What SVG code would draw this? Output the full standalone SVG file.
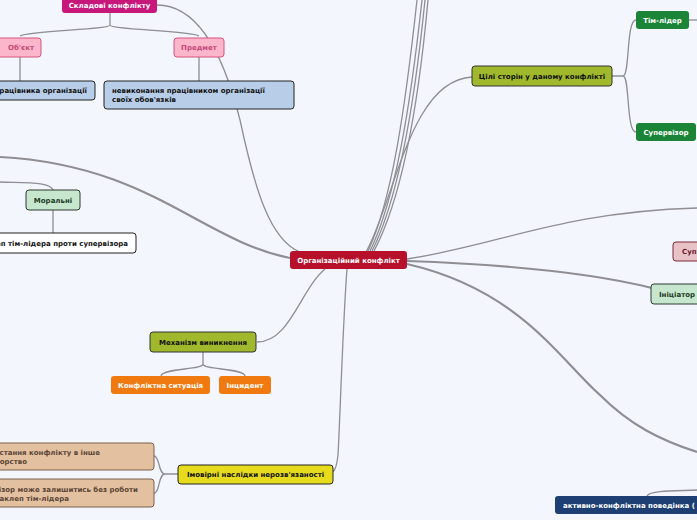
<svg xmlns="http://www.w3.org/2000/svg" width="697" height="520" viewBox="0 0 697 520">
<style>
.t{font-family:"DejaVu Sans",Verdana,sans-serif;font-weight:bold;font-size:7px}
.c{stroke:#8e8e93;fill:none;stroke-width:1.3}
.w{stroke:#8e8e93;fill:none;stroke-width:2.2}
</style>
<rect x="0" y="0" width="697" height="520" fill="#f3f6fd"/>
<g id="connectors">
<path class="c" d="M157,5 C200,5 225,60 240,120 C255,190 270,240 300,252"/>
<path class="c" d="M110,13 V25 C110,30 30,30 20,36 M110,25 C110,30 190,30 199,36"/>
<path class="c" d="M20,57 V81 M199,57 V81"/>
<path class="c" d="M368,251 C392,200 405,110 417,0"/>
<path class="c" d="M370,251 C395,200 410,110 422,0"/>
<path class="c" d="M372,251 C398,200 414,110 425,0"/>
<path class="c" d="M374,251 C401,200 418,110 428,0"/>
<path class="c" d="M366,252 C395,200 410,80 472,77"/>
<path class="w" d="M290,258 C200,240 150,165 0,157"/>
<path class="c" d="M0,182 C30,183 50,182 53,190 M53,210 V233"/>
<path class="c" d="M325,269 C300,290 290,342 257,342"/>
<path class="c" d="M203,352 V364 C203,370 162,368 161,376 M203,364 C203,370 244,368 245,376"/>
<path class="c" d="M347,269 C343,320 340,420 338,455 C337,465 335,470 333,472"/>
<path class="c" d="M178,474 H165 C158,474 160,456 154,456 M165,474 C158,474 160,493 154,493"/>
<path class="c" d="M612,76 H623 C630,76 626,20 636,20 M623,76 C630,76 626,132 636,132"/>
<path class="c" d="M689,20 H697"/>
<path class="c" d="M407,259 C500,245 560,212 697,208"/>
<path class="w" d="M407,261 C520,265 600,275 652,288"/>
<path class="w" d="M407,264 C520,290 560,360 600,395 C630,425 660,440 697,452"/>
<path class="c" d="M647,496 C650,490 680,491 697,490"/>
</g>
<g id="skladovi"><rect x="62" y="-4" width="95" height="17" rx="3" fill="#c8177a"/><text class="t" x="109.5" y="7.5" text-anchor="middle" fill="#fff">Складові конфлікту</text></g>
<g id="obiekt"><rect x="-4" y="38" width="45" height="19" rx="3" fill="#fbb6cb" stroke="#d8537f"/><text class="t" x="21" y="50" text-anchor="middle" fill="#c8497a">Об'єкт</text></g>
<g id="predmet"><rect x="174" y="38" width="50" height="19" rx="3" fill="#fbb6cb" stroke="#d8537f"/><text class="t" x="199" y="50" text-anchor="middle" fill="#c8497a">Предмет</text></g>
<g id="obiekt-child"><rect x="-10" y="81" width="105" height="19" rx="3" fill="#b8cde8" stroke="#222"/><text class="t" x="87" y="93" text-anchor="end" fill="#111">працівника організації</text></g>
<g id="predmet-child"><rect x="104" y="81" width="190" height="28" rx="3" fill="#b8cde8" stroke="#222"/><text class="t" x="112" y="93" fill="#111">невиконання працівником організації</text><text class="t" x="112" y="102" fill="#111">своїх обов'язків</text></g>
<g id="moralni"><rect x="26" y="190" width="54" height="20" rx="3" fill="#c6e7cd" stroke="#2d3b30"/><text class="t" x="53" y="202.5" text-anchor="middle" fill="#1d3a26">Моральні</text></g>
<g id="naklep"><rect x="-10" y="233" width="146" height="20" rx="3" fill="#fff" stroke="#222"/><text class="t" x="128" y="245.5" text-anchor="end" fill="#111">наклеп тім-лідера проти супервізора</text></g>
<g id="center"><rect x="290" y="251" width="117" height="18" rx="3" fill="#b7102b"/><text class="t" x="348.5" y="262.5" text-anchor="middle" fill="#fff">Організаційний конфлікт</text></g>
<g id="mekhanizm"><rect x="150" y="332" width="106" height="20" rx="3" fill="#9fb82c" stroke="#333"/><text class="t" x="203" y="344.5" text-anchor="middle" fill="#111">Механізм виникнення</text></g>
<g id="sytuatsiia"><rect x="111" y="376" width="99" height="18" rx="3" fill="#f07a10"/><text class="t" x="160.5" y="387.5" text-anchor="middle" fill="#fff">Конфліктна ситуація</text></g>
<g id="intsydent"><rect x="219" y="376" width="52" height="18" rx="3" fill="#f07a10"/><text class="t" x="245" y="387.5" text-anchor="middle" fill="#fff">Інцидент</text></g>
<g id="naslidky"><rect x="178" y="465" width="155" height="19" rx="3" fill="#e6db1c" stroke="#222"/><text class="t" x="255.5" y="477" text-anchor="middle" fill="#111">Імовірні наслідки нерозв'язаності</text></g>
<g id="pererostannia"><rect x="-10" y="443" width="164" height="27" rx="3" fill="#e3c0a0" stroke="#7c6048"/><text class="t" x="100" y="455" text-anchor="end" fill="#5b4636">переростання конфлікту в інше</text><text class="t" x="27" y="464" text-anchor="end" fill="#5b4636">протиборство</text></g>
<g id="bez-roboty"><rect x="-10" y="479" width="164" height="28" rx="3" fill="#e3c0a0" stroke="#7c6048"/><text class="t" x="138" y="492" text-anchor="end" fill="#5b4636">супервізор може залишитись без роботи</text><text class="t" x="69" y="501" text-anchor="end" fill="#5b4636">через наклеп тім-лідера</text></g>
<g id="tsili"><rect x="472" y="66" width="140" height="20" rx="3" fill="#9fb82c" stroke="#333"/><text class="t" x="542" y="78.5" text-anchor="middle" fill="#111">Цілі сторін у даному конфлікті</text></g>
<g id="tim-lider"><rect x="636" y="11" width="53" height="18" rx="3" fill="#1b8437"/><text class="t" x="662.5" y="22.5" text-anchor="middle" fill="#fff">Тім-лідер</text></g>
<g id="supervizor"><rect x="636" y="123" width="60" height="18" rx="3" fill="#1b8437"/><text class="t" x="666" y="134.5" text-anchor="middle" fill="#fff">Супервізор</text></g>
<g id="sup"><rect x="673" y="242" width="40" height="19" rx="3" fill="#e9c2c7" stroke="#7d2a3a"/><text class="t" x="682" y="254" fill="#6b1a2a">Суп</text></g>
<g id="initsiator"><rect x="651" y="284" width="60" height="20" rx="3" fill="#c6e7cd" stroke="#2d3b30"/><text class="t" x="659" y="296.5" fill="#1d3a26">Ініціатор</text></g>
<g id="aktyvno"><rect x="555" y="496" width="160" height="18" rx="3" fill="#1d3f73"/><text class="t" x="563" y="507.5" fill="#fff">активно-конфліктна поведінка (</text></g>
</svg>
